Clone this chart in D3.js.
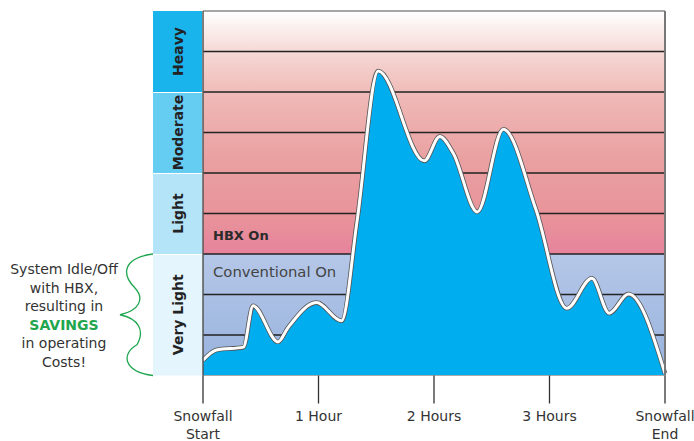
<!DOCTYPE html>
<html>
<head>
<meta charset="utf-8">
<script src="https://cdn.jsdelivr.net/npm/d3@7"></script>
<style>
  body { margin: 0; background: #fff; }
  text { font-family: "DejaVu Sans", sans-serif; }
</style>
</head>
<body>
<div id="chart"></div>
<script>
// snowfall intensity over time (minutes from start, level in grid rows 0..9)
var minutes   = [0, 7, 21, 26, 39, 44, 59, 72, 80, 91, 115, 123, 130, 142.5, 156, 173, 189, 202, 211, 221, 240];
var intensity = [0.38, 0.63, 0.70, 1.72, 0.83, 1.17, 1.80, 1.35, 3.80, 7.52, 5.30, 5.90, 5.49, 4.04, 6.08, 4.09, 1.66, 2.40, 1.54, 2.01, 0.05];

var levelNames  = ["Very Light", "Light", "Moderate", "Heavy"];
var levelBounds = [0, 3, 5, 7, 9];
var levelColors = ["#e4f5fd", "#b3e4f8", "#66cdf2", "#1ab4ec"];
var gridLevels  = [1, 2, 3, 4, 5, 6, 7, 8];

var timeTicks  = [0, 60, 120, 180, 240];
var timeLabels = [["Snowfall", "Start"], ["1 Hour"], ["2 Hours"], ["3 Hours"], ["Snowfall", "End"]];

var noteLines = ["System Idle/Off", "with HBX,", "resulting in", "SAVINGS", "in operating", "Costs!"];

var svgWidth = 694,
    svgHeight = 441,
    plotLeft = 203,
    plotRight = 665,
    plotTop = 11,
    plotBottom = 375.5,
    colLeft = 153;

var svg = d3.select("#chart").append("svg")
  .attr("width", svgWidth)
  .attr("height", svgHeight);

var x = d3.scaleLinear().domain([0, 240]).range([plotLeft, plotRight]);
var y = d3.scaleLinear().domain([0, 9]).range([plotBottom, plotTop]);

var defs = svg.append("defs");

// pink "HBX On" background, white at the top
var hbxGrad = defs.append("linearGradient")
  .attr("id", "hbxGrad")
  .attr("x1", "0%").attr("x2", "0%")
  .attr("y1", "0%").attr("y2", "100%");
[[0, "#ffffff"], [0.17, "#f5d8d4"], [0.35, "#efb9b6"], [0.6, "#eaa1a2"], [0.85, "#e8939a"], [1, "#e6839c"]]
  .forEach(function(s) {
    hbxGrad.append("stop").attr("offset", s[0]).attr("stop-color", s[1]);
  });

// blue "Conventional On" background
var convGrad = defs.append("linearGradient")
  .attr("id", "convGrad")
  .attr("x1", "0%").attr("x2", "0%")
  .attr("y1", "0%").attr("y2", "100%");
convGrad.append("stop").attr("offset", 0).attr("stop-color", "#b5c7e8");
convGrad.append("stop").attr("offset", 1).attr("stop-color", "#97b2dd");

svg.append("rect")
  .attr("x", x(0)).attr("width", x(240) - x(0))
  .attr("y", y(9)).attr("height", y(3) - y(9))
  .attr("fill", "url(#hbxGrad)");

svg.append("rect")
  .attr("x", x(0)).attr("width", x(240) - x(0))
  .attr("y", y(3)).attr("height", y(0) - y(3))
  .attr("fill", "url(#convGrad)");

// horizontal grid lines
svg.selectAll(".grid")
  .data(gridLevels)
  .enter().append("line")
  .attr("class", "grid")
  .attr("x1", x(0)).attr("x2", x(240))
  .attr("y1", function(d) { return y(d); })
  .attr("y2", function(d) { return y(d); })
  .attr("stroke", "#222")
  .attr("stroke-width", 1.5);

// zone labels
svg.append("text")
  .attr("x", x(0) + 10)
  .attr("y", y(3.35))
  .attr("font-size", 13)
  .attr("font-weight", "bold")
  .attr("fill", "#2a2a2a")
  .text("HBX On");

svg.append("text")
  .attr("x", x(0) + 10)
  .attr("y", y(2.43))
  .attr("font-size", 14.8)
  .attr("fill", "#444")
  .text("Conventional On");

// snowfall area
var pts = minutes.map(function(m, i) { return [m, intensity[i]]; });

var area = d3.area()
  .x(function(d) { return x(d[0]); })
  .y0(y(0))
  .y1(function(d) { return y(d[1]); })
  .curve(d3.curveMonotoneX);

var line = d3.line()
  .x(function(d) { return x(d[0]); })
  .y(function(d) { return y(d[1]); })
  .curve(d3.curveMonotoneX);

svg.append("path")
  .datum(pts)
  .attr("d", area)
  .attr("fill", "#00adee");

svg.append("path")
  .datum(pts)
  .attr("d", line)
  .attr("fill", "none")
  .attr("stroke", "#555")
  .attr("stroke-width", 4.6)
  .attr("stroke-linejoin", "round");

svg.append("path")
  .datum(pts)
  .attr("d", line)
  .attr("fill", "none")
  .attr("stroke", "#fff")
  .attr("stroke-width", 3)
  .attr("stroke-linejoin", "round");

// plot frame
svg.append("line")
  .attr("x1", x(0)).attr("x2", x(240))
  .attr("y1", y(9)).attr("y2", y(9))
  .attr("stroke", "#888").attr("stroke-width", 1.5);
svg.append("line")
  .attr("x1", x(240)).attr("x2", x(240))
  .attr("y1", y(9)).attr("y2", y(0))
  .attr("stroke", "#777").attr("stroke-width", 2);
svg.append("line")
  .attr("x1", x(0)).attr("x2", x(240))
  .attr("y1", y(0)).attr("y2", y(0))
  .attr("stroke", "#aaa").attr("stroke-width", 1);
svg.append("line")
  .attr("x1", x(0)).attr("x2", x(0))
  .attr("y1", y(9)).attr("y2", y(0))
  .attr("stroke", "#555").attr("stroke-width", 1.5);

// intensity level column
var levels = levelNames.map(function(n, i) {
  return { name: n, lo: levelBounds[i], hi: levelBounds[i + 1], color: levelColors[i] };
});

svg.selectAll(".level")
  .data(levels)
  .enter().append("rect")
  .attr("class", "level")
  .attr("x", colLeft)
  .attr("width", plotLeft - colLeft - 1)
  .attr("y", function(d) { return y(d.hi) + (d.hi < 9 ? 1 : 0); })
  .attr("height", function(d) { return y(d.lo) - y(d.hi) - (d.hi < 9 ? 1 : 0); })
  .attr("fill", function(d) { return d.color; });

svg.selectAll(".levelText")
  .data(levels)
  .enter().append("text")
  .attr("class", "levelText")
  .attr("text-anchor", "middle")
  .attr("font-size", 14)
  .attr("font-weight", "bold")
  .attr("fill", "#222")
  .attr("transform", function(d) {
    return "translate(" + (colLeft + 30) + "," + y((d.lo + d.hi) / 2) + ") rotate(-90)";
  })
  .text(function(d) { return d.name; });

// x axis ticks and labels
svg.selectAll(".tick")
  .data(timeTicks)
  .enter().append("line")
  .attr("class", "tick")
  .attr("x1", function(d) { return x(d); })
  .attr("x2", function(d) { return x(d); })
  .attr("y1", y(0))
  .attr("y2", y(0) + 28)
  .attr("stroke", "#333")
  .attr("stroke-width", 1.3);

var tickText = svg.selectAll(".tickText")
  .data(timeTicks)
  .enter().append("text")
  .attr("class", "tickText")
  .attr("text-anchor", "middle")
  .attr("font-size", 14)
  .attr("fill", "#333")
  .attr("x", function(d) { return x(d); })
  .attr("y", y(0) + 45);

tickText.selectAll("tspan")
  .data(function(d, i) { return timeLabels[i]; })
  .enter().append("tspan")
  .attr("x", function() { return d3.select(this.parentNode).attr("x"); })
  .attr("dy", function(d, i) { return i === 0 ? 0 : 18; })
  .text(function(d) { return d; });

// savings note and brace
var braceTop = y(3), braceBot = y(0), braceMid = (braceTop + braceBot) / 2;
var bx = colLeft;
var brace = d3.path();
brace.moveTo(bx, braceTop);
brace.bezierCurveTo(bx - 30, braceTop + 4, bx - 32, braceTop + 20, bx - 18, braceTop + 34);
brace.bezierCurveTo(bx - 8, braceTop + 45, bx - 14, braceMid - 4, bx - 33, braceMid);
brace.bezierCurveTo(bx - 14, braceMid + 4, bx - 8, braceMid + 16, bx - 16, braceMid + 30);
brace.bezierCurveTo(bx - 32, braceBot - 22, bx - 30, braceBot - 4, bx, braceBot);

svg.append("path")
  .attr("d", brace.toString())
  .attr("fill", "none")
  .attr("stroke", "#1fa64f")
  .attr("stroke-width", 1.3);

svg.selectAll(".note")
  .data(noteLines)
  .enter().append("text")
  .attr("class", "note")
  .attr("text-anchor", "middle")
  .attr("x", 64)
  .attr("y", function(d, i) { return 274 + i * 18.6; })
  .attr("font-size", 14)
  .attr("font-weight", function(d) { return d === "SAVINGS" ? "bold" : "normal"; })
  .attr("fill", function(d) { return d === "SAVINGS" ? "#1fa64f" : "#333"; })
  .text(function(d) { return d; });
</script>
</body>
</html>
